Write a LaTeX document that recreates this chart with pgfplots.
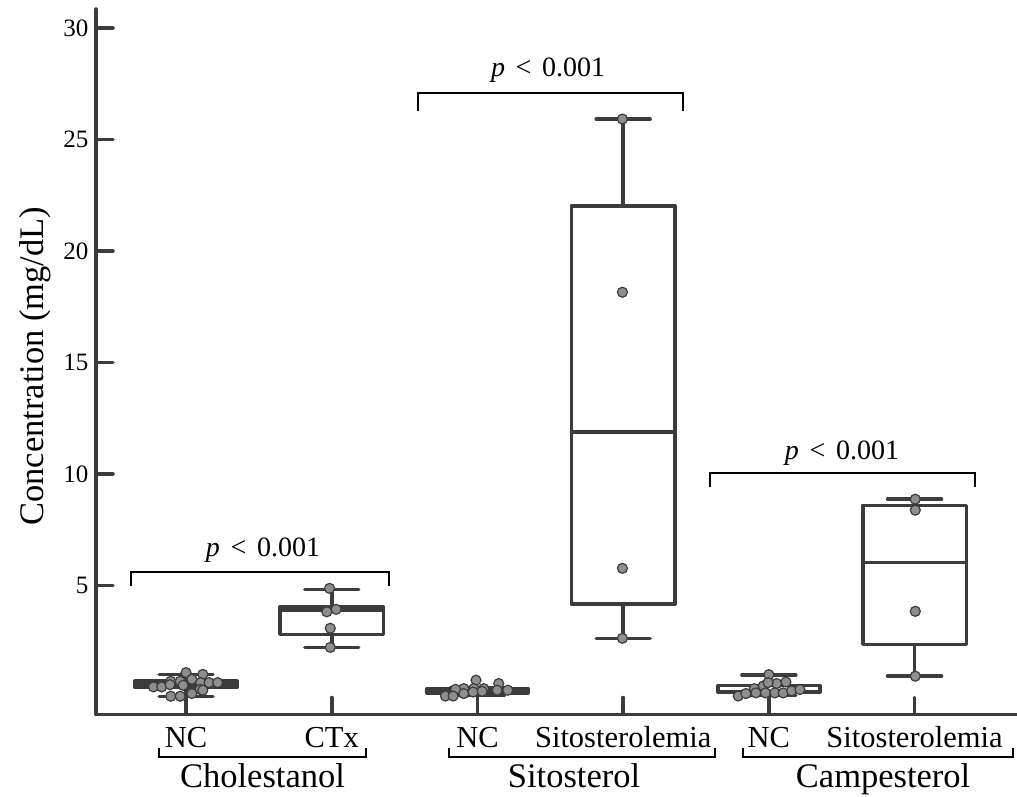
\documentclass[border=0pt]{standalone}
\usepackage{fontspec}
\setmainfont{Liberation Serif}
\usepackage{pgfplots}
\pgfplotsset{compat=1.18}
\usepgfplotslibrary{statistics}
\definecolor{cLine}{HTML}{3C3C3C}
\definecolor{cPt}{HTML}{8E8E8E}
\newcommand\pfont{\fontsize{28}{28}\selectfont}
\newcommand\gfont{\fontsize{34.5}{34.5}\selectfont}
\begin{document}
\begin{tikzpicture}
\path[use as bounding box] (0,0) rectangle (1017pt,796pt);
\begin{axis}[
  at={(96pt,81.5pt)}, anchor=south west,
  scale only axis, width=921pt, height=705.5pt,
  xmin=-0.618, xmax=5.703, ymin=-0.80, ymax=30.86,
  axis lines*=left,
  axis line style={cLine, line width=3.5pt, line cap=round},
  tick align=inside,
  major tick length=17pt,
  major tick style={cLine, line width=3.5pt, line cap=round},
  xtick={0,1,2,3,4,5},
  xticklabels={NC,CTx,NC,Sitosterolemia,NC,Sitosterolemia},
  xticklabel style={font=\fontsize{30.5}{30.5}\selectfont, anchor=base, yshift=-33pt},
  ytick={5,10,15,20,25,30},
  yticklabel style={font=\fontsize{25}{25}\selectfont, xshift=-4pt},
  /pgf/number format/assume math mode=true,
  every axis y label/.style={at={(axis description cs:-0.0575,0.4936)}, rotate=90, anchor=base, font=\fontsize{34.5}{34.5}\selectfont},
  ylabel={Concentration (mg/dL)},
  boxplot/draw direction=y,
  clip=false,
]
% boxes
\addplot[boxplot prepared={draw position=0, lower whisker=0.0, lower quartile=0.41, median=0.55, upper quartile=0.70, upper whisker=1.0, box extend=0.70, whisker extend=0.37}, draw=cLine, fill=white, line width=3.5pt, line cap=round, line join=round] coordinates {};
\addplot[boxplot prepared={draw position=1, lower whisker=2.21, lower quartile=2.80, median=3.89, upper quartile=4.03, upper whisker=4.82, box extend=0.71, whisker extend=0.37}, draw=cLine, fill=white, line width=3.5pt, line cap=round, line join=round] coordinates {};
\addplot[boxplot prepared={draw position=2, lower whisker=0.08, lower quartile=0.14, median=0.25, upper quartile=0.34, upper whisker=0.40, box extend=0.70, whisker extend=0.37}, draw=cLine, fill=white, line width=3.5pt, line cap=round, line join=round] coordinates {};
\addplot[boxplot prepared={draw position=3, lower whisker=2.62, lower quartile=4.15, median=11.88, upper quartile=22.03, upper whisker=25.92, box extend=0.71, whisker extend=0.37}, draw=cLine, fill=white, line width=3.5pt, line cap=round, line join=round] coordinates {};
\addplot[boxplot prepared={draw position=4, lower whisker=0.05, lower quartile=0.22, median=0.24, upper quartile=0.50, upper whisker=0.97, box extend=0.70, whisker extend=0.37}, draw=cLine, fill=white, line width=3.5pt, line cap=round, line join=round] coordinates {};
\addplot[boxplot prepared={draw position=5, lower whisker=0.92, lower quartile=2.35, median=6.03, upper quartile=8.59, upper whisker=8.86, box extend=0.71, whisker extend=0.37}, draw=cLine, fill=white, line width=3.5pt, line cap=round, line join=round] coordinates {};
% points
\addplot[only marks, mark=*, mark size=5pt, mark options={fill=cPt, draw=cLine, line width=1.2pt}] coordinates {
(0.0,1.08) (0.115,1.0) (-0.105,0.69) (-0.04,0.69) (0.04,0.78) (0.10,0.63) (0.158,0.63) (0.217,0.63) (-0.224,0.44) (-0.167,0.44) (-0.11,0.54) (-0.02,0.51) (0.096,0.33) (-0.105,0.02) (-0.04,0.02) (0.04,0.14) (0.115,0.29)
(0.985,4.86) (0.966,3.81) (1.03,3.92) (0.99,3.07) (0.99,2.21)
(1.99,0.74) (2.146,0.59) (1.906,0.36) (1.975,0.36) (2.043,0.36) (1.85,0.33) (2.208,0.29) (1.78,0.03) (1.833,0.03) (1.906,0.14) (1.97,0.21) (2.032,0.24) (2.135,0.29)
(2.995,25.92) (2.995,18.15) (2.995,5.76) (2.995,2.62)
(4.0,0.99) (4.117,0.66) (4.053,0.59) (3.961,0.48) (3.9,0.36) (3.995,0.63) (3.79,0.03) (3.842,0.14) (3.911,0.17) (3.977,0.17) (4.041,0.17) (4.098,0.17) (4.156,0.26) (4.213,0.32)
(5.005,8.86) (5.005,8.37) (5.005,3.83) (5.005,0.92)
};
% significance brackets
\draw[black, line width=2pt] (axis cs:-0.377,4.96) |- (axis cs:1.393,5.59) -- (axis cs:1.393,4.96);
\node[anchor=base, font=\pfont, inner sep=0pt] at (axis cs:0.528,6.31) {\textit{p}\hspace{0.38em}<\hspace{0.38em}0.001};
\draw[black, line width=2pt] (axis cs:1.592,26.30) |- (axis cs:3.413,27.10) -- (axis cs:3.413,26.30);
\node[anchor=base, font=\pfont, inner sep=0pt] at (axis cs:2.485,27.82) {\textit{p}\hspace{0.38em}<\hspace{0.38em}0.001};
\draw[black, line width=2pt] (axis cs:3.596,9.39) |- (axis cs:5.415,10.02) -- (axis cs:5.415,9.39);
\node[anchor=base, font=\pfont, inner sep=0pt] at (axis cs:4.502,10.66) {\textit{p}\hspace{0.38em}<\hspace{0.38em}0.001};
% group brackets
\draw[black, line width=2pt] (axis cs:-0.185,-2.31) |- (axis cs:1.235,-2.71) -- (axis cs:1.235,-2.31);
\draw[black, line width=2pt] (axis cs:1.805,-2.31) |- (axis cs:3.631,-2.71) -- (axis cs:3.631,-2.31);
\draw[black, line width=2pt] (axis cs:3.823,-2.31) |- (axis cs:5.676,-2.71) -- (axis cs:5.676,-2.31);
\node[anchor=base, font=\gfont, inner sep=0pt] at (axis cs:0.525,-4.06) {Cholestanol};
\node[anchor=base, font=\gfont, inner sep=0pt] at (axis cs:2.663,-4.06) {Sitosterol};
\node[anchor=base, font=\gfont, inner sep=0pt] at (axis cs:4.784,-4.06) {Campesterol};
\end{axis}
\end{tikzpicture}
\end{document}
